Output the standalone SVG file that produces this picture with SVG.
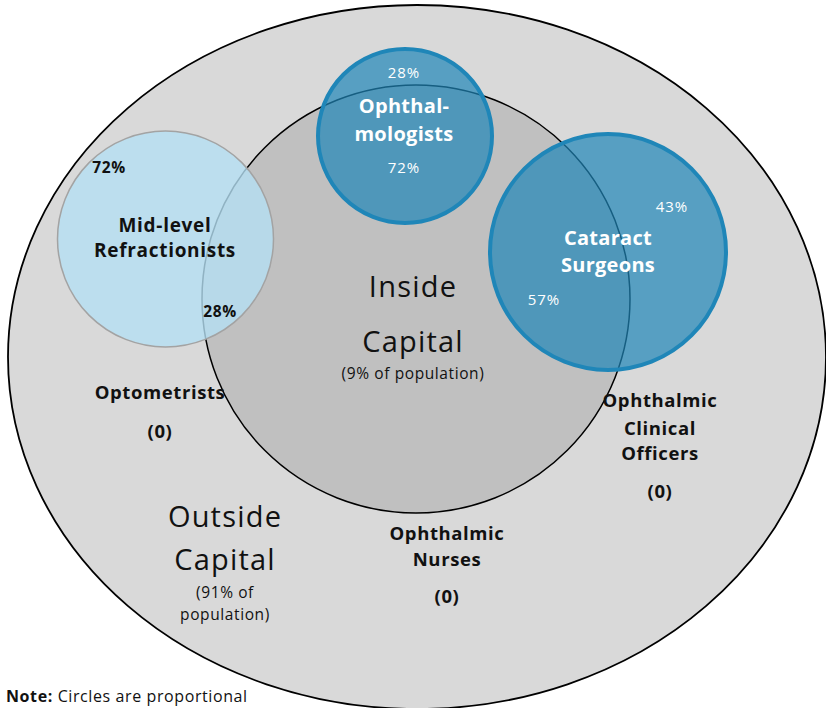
<svg xmlns="http://www.w3.org/2000/svg" width="826" height="708" viewBox="0 0 826 708">
<style>
text{font-family:"Open Sans","Noto Sans","Liberation Sans",sans-serif;text-anchor:middle}
.b{font-weight:bold;font-size:18.5px;fill:#111;letter-spacing:0.6px}
.bw{font-weight:bold;font-size:20px;fill:#fff;letter-spacing:0.3px}
.pw{font-size:15px;fill:#fff;letter-spacing:0.9px}
.pb{font-weight:bold;font-size:15.5px;fill:#111;letter-spacing:0.6px}
.big{font-size:29px;fill:#111;letter-spacing:1.2px}
.sm{font-size:15.5px;fill:#111;letter-spacing:0.6px}
.blue{fill:rgb(31,134,184);fill-opacity:0.7;stroke:#1f86b8;stroke-width:4}
</style>
<rect width="826" height="708" fill="#fff"/>
<g id="outside-capital">
<ellipse cx="417" cy="357" rx="409" ry="352" fill="#d9d9d9" stroke="#000" stroke-width="1.8"/>
</g>
<g id="inside-capital">
<circle cx="416" cy="299" r="214" fill="#c0c0c0" stroke="#000" stroke-width="1.5"/>
</g>
<g id="mid-level">
<circle cx="165.5" cy="239" r="108" fill="rgb(180,222,242)" fill-opacity="0.8" stroke="#a3a3a3" stroke-width="1.5"/>
</g>
<g id="ophthalmologists">
<circle class="blue" cx="405" cy="136" r="87"/>
</g>
<g id="cataract">
<circle class="blue" cx="608" cy="252" r="118"/>
</g>
<g id="connectors"/>
<g id="labels-ophthalmologists">
<text class="pw" x="404" y="78">28%</text>
<text class="bw" x="404" y="113">Ophthal-</text>
<text class="bw" x="404" y="141">mologists</text>
<text class="pw" x="404" y="173">72%</text>
</g>
<g id="labels-cataract">
<text class="pw" x="672" y="212">43%</text>
<text class="bw" x="608" y="245">Cataract</text>
<text class="bw" x="608" y="272">Surgeons</text>
<text class="pw" x="544" y="305">57%</text>
</g>
<g id="labels-midlevel">
<text class="pb" x="109" y="173">72%</text>
<text class="b" x="165" y="232" style="font-size:19px;letter-spacing:0.7px">Mid-level</text>
<text class="b" x="165" y="257" style="font-size:19px;letter-spacing:0.7px">Refractionists</text>
<text class="pb" x="220" y="317">28%</text>
</g>
<g id="labels-inside">
<text class="big" x="413" y="297">Inside</text>
<text class="big" x="413" y="352">Capital</text>
<text class="sm" x="413" y="379">(9% of population)</text>
</g>
<g id="optometrists">
<text class="b" x="160" y="399">Optometrists</text>
<text class="b" x="160" y="438">(0)</text>
</g>
<g id="clinical-officers">
<text class="b" x="660" y="407">Ophthalmic</text>
<text class="b" x="660" y="435">Clinical</text>
<text class="b" x="660" y="460">Officers</text>
<text class="b" x="660" y="498">(0)</text>
</g>
<g id="labels-outside">
<text class="big" x="225" y="527">Outside</text>
<text class="big" x="225" y="570">Capital</text>
<text class="sm" x="225" y="598">(91% of</text>
<text class="sm" x="225" y="620">population)</text>
</g>
<g id="nurses">
<text class="b" x="447" y="540">Ophthalmic</text>
<text class="b" x="447" y="566">Nurses</text>
<text class="b" x="447" y="603">(0)</text>
</g>
<text x="6" y="702" style="text-anchor:start;font-size:16px;fill:#111;letter-spacing:0.6px"><tspan font-weight="bold">Note:</tspan> Circles are proportional</text>
</svg>
